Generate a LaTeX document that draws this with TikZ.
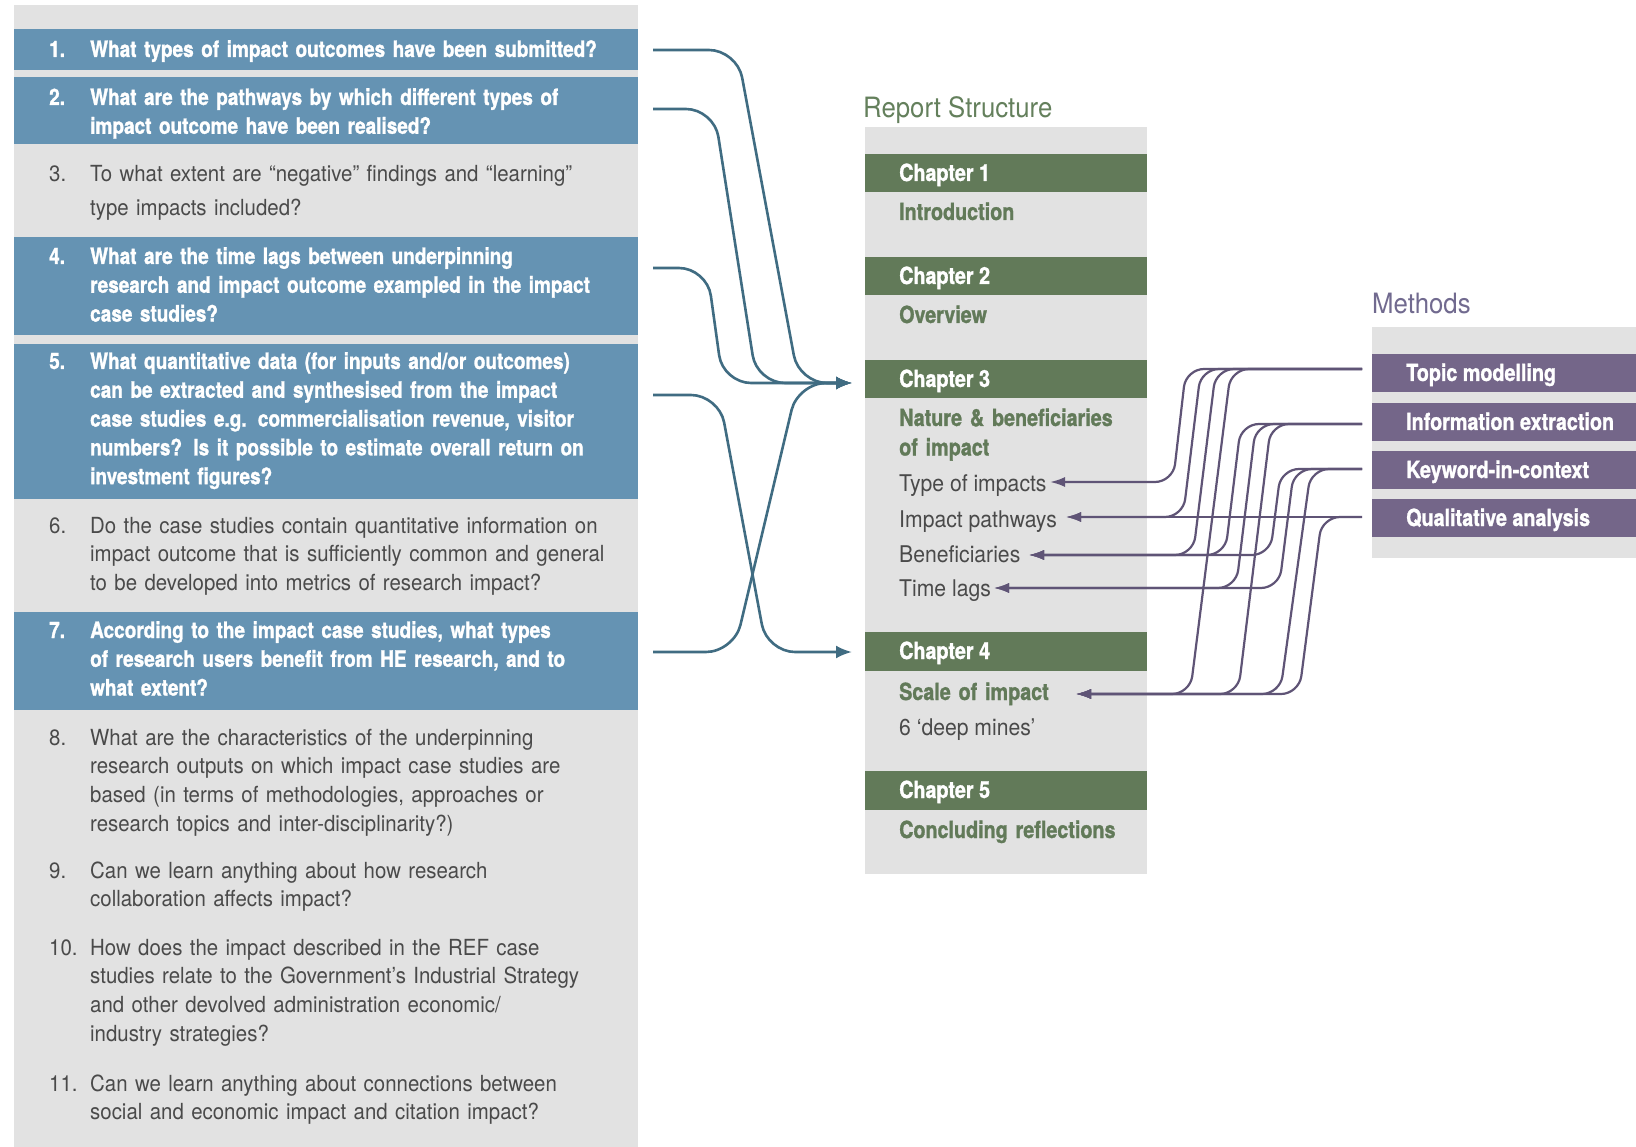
\documentclass[tikz,border=0pt]{standalone}
\usepackage{fontspec}
\setmainfont{TeX Gyre Heros}
\newfontfamily\regf{TeX Gyre Heros}[FakeStretch=0.92]
\newfontfamily\boldf{TeX Gyre Heros}[FakeStretch=0.84, BoldFeatures={FakeBold=1.2}]
\usetikzlibrary{arrows.meta}
\definecolor{panel}{HTML}{E2E2E2}
\definecolor{bluerow}{HTML}{6593B3}
\definecolor{blueline}{HTML}{406C82}
\definecolor{chgreen}{HTML}{627A59}
\definecolor{labgreen}{HTML}{64805C}
\definecolor{purpbar}{HTML}{746689}
\definecolor{purpline}{HTML}{5F5476}
\definecolor{purplab}{HTML}{716A8F}
\definecolor{txt}{HTML}{4A4A4A}
\begin{document}
\begin{tikzpicture}[x=1pt,y=-1pt,
  bline/.style={draw=blueline, line width=2.6pt, rounded corners=28pt, -{Latex[length=16pt,width=13pt]}},
  pline/.style={draw=purpline, line width=2.2pt, rounded corners=18pt, -{Latex[length=15pt,width=10pt]}},
  qreg/.style={anchor=base west, inner sep=0pt, text width=560pt, align=left, text=txt, font=\regf\fontsize{22.2}{28.8}\selectfont},
  qbold/.style={anchor=base west, inner sep=0pt, text width=560pt, align=left, text=white, font=\boldf\bfseries\fontsize{22.6}{28.8}\selectfont},
  nreg/.style={anchor=base west, inner sep=0pt, text=txt, font=\regf\fontsize{22.2}{28.8}\selectfont},
  nbold/.style={anchor=base west, inner sep=0pt, text=white, font=\boldf\bfseries\fontsize{22.6}{28.8}\selectfont},
  brow/.style={anchor=north west, inner sep=0pt, fill=bluerow, minimum width=624pt},
  chbar/.style={anchor=north west, inner sep=0pt, fill=chgreen, minimum width=282pt},
  mbar/.style={anchor=north west, inner sep=0pt, fill=purpbar, minimum width=264pt, minimum height=38pt},
  chtxt/.style={anchor=base west, inner sep=0pt, text=white, font=\boldf\bfseries\fontsize{23.5}{28.8}\selectfont},
  subtxt/.style={anchor=base west, inner sep=0pt, text width=260pt, align=left, text=chgreen, font=\boldf\bfseries\fontsize{23.5}{29.5}\selectfont},
  itemtxt/.style={anchor=base west, inner sep=0pt, text=txt, font=\regf\fontsize{23}{28.8}\selectfont},
  headtxt/.style={anchor=base west, inner sep=0pt, font=\regf\fontsize{28}{32}\selectfont}
]
\fill[white] (0,0) rectangle (1636,1147);
\useasboundingbox (0,0) rectangle (1636,1147);

% ---------- left panel ----------
\fill[panel] (14,5) rectangle (638,1147);
\node[brow, minimum height=41pt] (r1) at (14,29) {};
\node[brow, minimum height=67pt] (r2) at (14,77) {};
\node[brow, minimum height=98pt] (r4) at (14,237) {};
\node[brow, minimum height=155pt] (r5) at (14,344) {};
\node[brow, minimum height=98pt] (r7) at (14,612) {};

\node[nbold] (n1) at (49,57) {1.};
\node[qbold] (q1) at (90,57) {What types of impact outcomes have been submitted?};
\node[nbold] (n2) at (49,105) {2.};
\node[qbold] (q2) at (90,105) {What are the pathways by which different types of\\impact outcome have been realised?};
\node[nreg] (n3) at (49,182) {3.};
\node[qreg, font=\regf\fontsize{22.2}{33.5}\selectfont] (q3) at (90,182) {To what extent are “negative” findings and “learning”\\type impacts included?};
\node[nbold] (n4) at (49,264) {4.};
\node[qbold] (q4) at (90,264) {What are the time lags between underpinning\\research and impact outcome exampled in the impact\\case studies?};
\node[nbold] (n5) at (49,369) {5.};
\node[qbold] (q5) at (90,369) {What quantitative data (for inputs and/or outcomes)\\can be extracted and synthesised from the impact\\case studies e.g. commercialisation revenue, visitor\\numbers? Is it possible to estimate overall return on\\investment figures?};
\node[nreg] (n6) at (49,533) {6.};
\node[qreg] (q6) at (90,533) {Do the case studies contain quantitative information on\\impact outcome that is sufficiently common and general\\to be developed into metrics of research impact?};
\node[nbold] (n7) at (49,638) {7.};
\node[qbold] (q7) at (90,638) {According to the impact case studies, what types\\of research users benefit from HE research, and to\\what extent?};
\node[nreg] (n8) at (49,745) {8.};
\node[qreg] (q8) at (90,745) {What are the characteristics of the underpinning\\research outputs on which impact case studies are\\based (in terms of methodologies, approaches or\\research topics and inter-disciplinarity?)};
\node[nreg] (n9) at (49,878) {9.};
\node[qreg] (q9) at (90,878) {Can we learn anything about how research\\collaboration affects impact?};
\node[nreg] (n10) at (49,955) {10.};
\node[qreg] (q10) at (90,955) {How does the impact described in the REF case\\studies relate to the Government’s Industrial Strategy\\and other devolved administration economic/\\industry strategies?};
\node[nreg] (n11) at (49,1091) {11.};
\node[qreg] (q11) at (90,1091) {Can we learn anything about connections between\\social and economic impact and citation impact?};

% ---------- report structure ----------
\node[headtxt, text=labgreen] (rs) at (863,118) {Report Structure};
\fill[panel] (865,127) rectangle (1147,874);
\node[chbar, minimum height=38pt] (ch1) at (865,154) {};
\node[chbar, minimum height=38pt] (ch2) at (865,257) {};
\node[chbar, minimum height=38pt] (ch3) at (865,360) {};
\node[chbar, minimum height=39pt] (ch4) at (865,632) {};
\node[chbar, minimum height=39pt] (ch5) at (865,771) {};
\node[chtxt] (ch1t) at (899,181) {Chapter 1};
\node[chtxt] (ch2t) at (899,284) {Chapter 2};
\node[chtxt] (ch3t) at (899,387) {Chapter 3};
\node[chtxt] (ch4t) at (899,659) {Chapter 4};
\node[chtxt] (ch5t) at (899,798) {Chapter 5};
\node[subtxt] (s1t) at (899,220) {Introduction};
\node[subtxt] (s2t) at (899,323) {Overview};
\node[subtxt] (s3t) at (899,426) {Nature \& beneficiaries\\of impact};
\node[itemtxt] (ty) at (899,491) {Type of impacts};
\node[itemtxt] (ip) at (899,527) {Impact pathways};
\node[itemtxt] (be) at (899,562) {Beneficiaries};
\node[itemtxt] (tl) at (899,596) {Time lags};
\node[subtxt] (s4t) at (899,700) {Scale of impact};
\node[itemtxt] (dm) at (899,735) {6 ‘deep mines’};
\node[subtxt] (s5t) at (899,838) {Concluding reflections};

% ---------- methods ----------
\node[headtxt, text=purplab] (mh) at (1372,314) {Methods};
\fill[panel] (1372,327) rectangle (1636,558);
\node[mbar] (tm) at (1372,354) {};
\node[mbar] (ie) at (1372,403) {};
\node[mbar] (kw) at (1372,451) {};
\node[mbar] (qa) at (1372,499) {};
\node[chtxt] (tmt) at (1406,381) {Topic modelling};
\node[chtxt] (iet) at (1406,430) {Information extraction};
\node[chtxt] (kwt) at (1406,478) {Keyword-in-context};
\node[chtxt] (qat) at (1406,526) {Qualitative analysis};

% ---------- blue connectors ----------
\coordinate (s1) at (653,50);
\coordinate (s2) at (653,109);
\coordinate (s4) at (653,268);
\coordinate (s5) at (653,395);
\coordinate (s7) at (653,652);
\coordinate (e3) at (852,383);
\coordinate (e4) at (852,652);
\draw[bline] (s1) -- (737,50) -- (799,383) -- (e3);
\draw[bline] (s2) -- (714,109) -- (757,383) -- (e3);
\draw[bline] (s4) -- (707,268) -- (723,383) -- (e3);
\draw[bline] (s7) -- (734,652) -- (798,383) -- (e3);
\draw[bline] (s5) -- (719,395) -- (767,652) -- (e4);

% ---------- purple connectors ----------
\coordinate (mTM) at (1362,369);
\coordinate (mIE) at (1362,424);
\coordinate (mKW) at (1362,469);
\coordinate (mQA) at (1362,517);
\coordinate (tType) at (1050,482);
\coordinate (tPath) at (1066,517);
\coordinate (tBen) at (1029,555);
\coordinate (tTime) at (994,588);
\coordinate (tScale) at (1076,694);
\draw[pline] (mTM) -- (1186,369) -- (1173,482) -- (tType);
\draw[pline] (mTM) -- (1201,369) -- (1183,517) -- (tPath);
\draw[pline] (mTM) -- (1216,369) -- (1193,555) -- (tBen);
\draw[pline] (mTM) -- (1231,369) -- (1190,694) -- (tScale);
\draw[pline] (mIE) -- (1241,424) -- (1225,555) -- (tBen);
\draw[pline] (mIE) -- (1256,424) -- (1236,588) -- (tTime);
\draw[pline] (mIE) -- (1271,424) -- (1238,694) -- (tScale);
\draw[pline] (mKW) -- (1281,469) -- (1270,555) -- (tBen);
\draw[pline] (mKW) -- (1294,469) -- (1279,588) -- (tTime);
\draw[pline] (mKW) -- (1311,469) -- (1280,694) -- (tScale);
\draw[pline] (mQA) -- (tPath);
\draw[pline] (mQA) -- (1322,517) -- (1299,694) -- (tScale);
\end{tikzpicture}
\end{document}
